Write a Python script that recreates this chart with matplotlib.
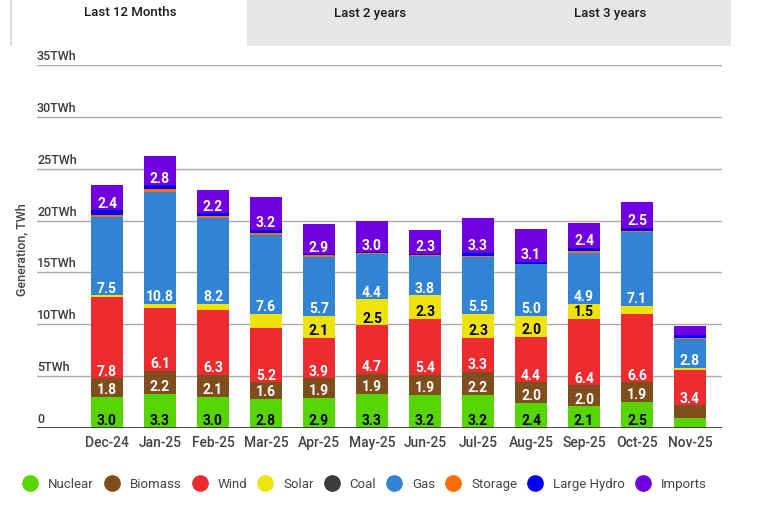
import matplotlib
matplotlib.use("Agg")
import matplotlib.pyplot as plt
from matplotlib.patches import Rectangle
from matplotlib.lines import Line2D
import matplotlib.transforms as mtransforms
import numpy as np

plt.rcParams['font.family'] = ['Roboto', 'DejaVu Sans']

months = ["Dec-24", "Jan-25", "Feb-25", "Mar-25", "Apr-25", "May-25",
          "Jun-25", "Jul-25", "Aug-25", "Sep-25", "Oct-25", "Nov-25"]

nuclear = [3.0, 3.3, 3.0, 2.8, 2.9, 3.3, 3.2, 3.2, 2.4, 2.1, 2.5, 1.0]
biomass = [1.8, 2.2, 2.1, 1.6, 1.9, 1.9, 1.9, 2.2, 2.0, 2.0, 1.9, 1.2]
wind = [7.8, 6.1, 6.3, 5.2, 3.9, 4.7, 5.4, 3.3, 4.4, 6.4, 6.6, 3.4]
solar = [0.2, 0.4, 0.6, 1.4, 2.1, 2.5, 2.3, 2.3, 2.0, 1.5, 0.75, 0.2]
coal = [0.0, 0.0, 0.0, 0.0, 0.0, 0.0, 0.0, 0.0, 0.0, 0.0, 0.0, 0.0]
gas = [7.5, 10.8, 8.2, 7.6, 5.7, 4.4, 3.8, 5.5, 5.0, 4.9, 7.1, 2.8]
storage = [0.2, 0.2, 0.2, 0.2, 0.15, 0.05, 0.1, 0.1, 0.05, 0.15, 0.15, 0.05]
large_hydro = [0.5, 0.4, 0.3, 0.3, 0.1, 0.1, 0.1, 0.3, 0.2, 0.3, 0.3, 0.3]
imports = [2.4, 2.8, 2.2, 3.2, 2.9, 3.0, 2.3, 3.3, 3.1, 2.4, 2.5, 0.9]

series_names = ["Nuclear", "Biomass", "Wind", "Solar", "Coal", "Gas",
                "Storage", "Large Hydro", "Imports"]
series_values = [nuclear, biomass, wind, solar, coal, gas, storage,
                 large_hydro, imports]
colors = ["#57d500", "#7f4e1c", "#ee2b2e", "#efe30f", "#3b3b3b",
          "#3183d6", "#ff6d00", "#0000f2", "#7000e0"]
label_colors = ["black", "white", "white", "black", "white", "white",
                "white", "white", "white"]

yticks = [0, 5, 10, 15, 20, 25, 30, 35]
ytick_labels = ["0", "5TWh", "10TWh", "15TWh", "20TWh", "25TWh", "30TWh", "35TWh"]

W, H = 778, 506
fig = plt.figure(figsize=(W / 100, H / 100), dpi=100)
fig.patch.set_facecolor("white")

# tabs
fig.patches.append(Rectangle((247 / W, 1 - 47 / H), (731 - 247) / W, 47 / H,
                             transform=fig.transFigure, facecolor="#e6e6e6",
                             edgecolor="none", zorder=0))
fig.patches.append(Rectangle((10 / W, 1 - 47 / H), 2 / W, 47 / H,
                             transform=fig.transFigure, facecolor="#dddddd",
                             edgecolor="none", zorder=0))
for txt, cx in [("Last 12 Months", 130), ("Last 2 years", 370), ("Last 3 years", 610)]:
    fig.text(cx / W, 1 - 13 / H, txt, ha="center", va="center",
             fontsize=9.5, fontweight="medium", color="#1a1a1a")

ax_left, ax_right = 37, 722
ax_top, ax_bottom = 66, 429
ax = fig.add_axes([ax_left / W, 1 - ax_bottom / H, (ax_right - ax_left) / W,
                   (ax_bottom - ax_top) / H])

x = np.arange(len(months))
bottom = np.zeros(len(months))
for name, vals, col, lc in zip(series_names, series_values, colors, label_colors):
    vals = np.array(vals, dtype=float)
    ax.bar(x, vals, width=0.6, bottom=bottom, color=col, linewidth=0, zorder=3)
    for xi, b, v in zip(x, bottom, vals):
        if v >= 1.5:
            ax.annotate(f"{v:.1f}", xy=(xi, b), xytext=(0, 5.5),
                        textcoords="offset points", ha="center", va="center",
                        fontsize=10, fontweight="bold", color=lc, zorder=5)
    bottom = bottom + vals

px_per_bar = 53.0
x0_px = 107.0
ax.set_xlim((ax_left - x0_px) / px_per_bar, (ax_right - x0_px) / px_per_bar)
ax.set_ylim(0, 35)

for s in ax.spines.values():
    s.set_visible(False)
ax.set_yticks(yticks)
ax.set_yticklabels([])
ax.tick_params(axis="y", length=0)
ax.yaxis.grid(True, color="#aaaaaa", linewidth=1.0, zorder=1)
ax.set_axisbelow(True)
ax.axhline(0, color="#333333", linewidth=2.0, zorder=4)

trans = mtransforms.blended_transform_factory(ax.transAxes, ax.transData)
offset = mtransforms.ScaledTranslation(0, 3 / 100, fig.dpi_scale_trans)
for yv, lab in zip(yticks, ytick_labels):
    ax.text(0, yv, lab, transform=trans + offset, ha="left", va="bottom",
            fontsize=9, fontweight="medium", color="#3a3a3a")

ax.set_xticks(x)
ax.set_xticklabels(months, fontsize=10, fontweight="medium", color="#444444")
ax.tick_params(axis="x", length=0, pad=5)

fig.text(22 / W, 1 - 250 / H, "Generation, TWh", rotation=90, ha="center",
         va="center", fontsize=9, fontweight="medium", color="#444444")

handles = [Line2D([0], [0], marker="o", linestyle="none", markersize=11,
                  markerfacecolor=c, markeredgecolor=c) for c in colors]
fig.legend(handles, series_names, loc="center left",
           bbox_to_anchor=(23 / W, 1 - 485 / H), ncol=9, frameon=False,
           fontsize=9.5, labelcolor="#444444", handlelength=1.1,
           handletextpad=0.82, columnspacing=0.8, borderpad=0,
           borderaxespad=0)

fig.savefig("out.png", dpi=100)
